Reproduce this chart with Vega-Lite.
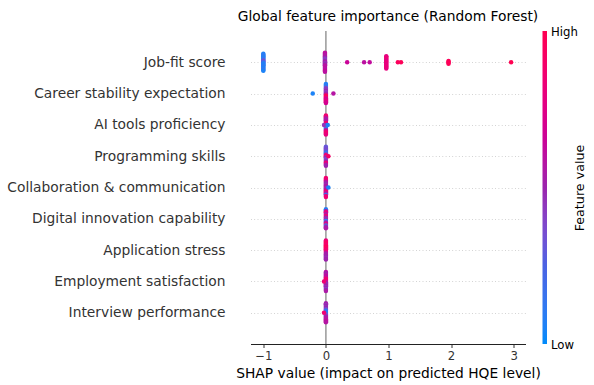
{
  "$schema": "https://vega.github.io/schema/vega-lite/v6.json",
  "width": 275,
  "height": 313,
  "autosize": {"type": "none"},
  "padding": {"left": 250.5, "top": 31, "right": 68.5, "bottom": 41},
  "background": "white",
  "config": {"font": "DejaVu Sans", "view": {"stroke": null}},
  "title": {"text": "Global feature importance (Random Forest)", "fontSize": 13.8, "fontWeight": "normal", "color": "#000", "anchor": "middle", "offset": 2},
  "datasets": {
    "features": [
      {"k": "a", "name": "Job-fit score"},
      {"k": "b", "name": "Career stability expectation"},
      {"k": "c", "name": "AI tools proficiency"},
      {"k": "d", "name": "Programming skills"},
      {"k": "e", "name": "Collaboration & communication"},
      {"k": "f", "name": "Digital innovation capability"},
      {"k": "g", "name": "Application stress"},
      {"k": "h", "name": "Employment satisfaction"},
      {"k": "i", "name": "Interview performance"}
    ],
    "shap": [
      {"f":"a","s":-1,"v":0.05},{"f":"a","s":-1,"v":0.1},{"f":"a","s":-1,"v":0.08},{"f":"a","s":-1,"v":0.12},{"f":"a","s":-1,"v":0.05},{"f":"a","s":-1,"v":0.1},{"f":"a","s":-1,"v":0.15},{"f":"a","s":-1,"v":0.3},{"f":"a","s":-1,"v":0.35},{"f":"a","s":-1,"v":0.2},{"f":"a","s":-1,"v":0.1},{"f":"a","s":-1,"v":0.05},{"f":"a","s":-1,"v":0.1},{"f":"a","s":-1,"v":0.08},{"f":"a","s":-1,"v":0.12},{"f":"a","s":-1,"v":0.05},{"f":"a","s":-1,"v":0.1},{"f":"a","s":-1,"v":0.15},{"f":"a","s":-1,"v":0.05},
      {"f":"a","s":-0.015,"v":0.6},{"f":"a","s":-0.015,"v":0.62},{"f":"a","s":-0.015,"v":0.58},{"f":"a","s":-0.015,"v":0.55},{"f":"a","s":-0.015,"v":0.6},{"f":"a","s":-0.015,"v":0.5},{"f":"a","s":-0.015,"v":0.45},{"f":"a","s":-0.015,"v":0.4},{"f":"a","s":-0.015,"v":0.45},{"f":"a","s":-0.015,"v":0.5},{"f":"a","s":-0.015,"v":0.55},{"f":"a","s":-0.015,"v":0.45},{"f":"a","s":-0.015,"v":0.5},{"f":"a","s":-0.015,"v":0.55},{"f":"a","s":-0.015,"v":0.6},{"f":"a","s":-0.015,"v":0.58},{"f":"a","s":-0.015,"v":0.62},{"f":"a","s":-0.015,"v":0.55},{"f":"a","s":-0.015,"v":0.6},{"f":"a","s":-0.015,"v":0.65},{"f":"a","s":-0.015,"v":0.6},
      {"f":"a","s":0.34,"v":0.65},{"f":"a","s":0.61,"v":0.6},{"f":"a","s":0.7,"v":0.62},
      {"f":"a","s":0.965,"v":0.8},{"f":"a","s":0.965,"v":0.78},{"f":"a","s":0.965,"v":0.82},{"f":"a","s":0.965,"v":0.85},{"f":"a","s":0.965,"v":0.8},{"f":"a","s":0.965,"v":0.75},{"f":"a","s":0.965,"v":0.8},{"f":"a","s":0.965,"v":0.85},{"f":"a","s":0.965,"v":0.8},{"f":"a","s":0.965,"v":0.78},{"f":"a","s":0.965,"v":0.82},{"f":"a","s":0.965,"v":0.8},{"f":"a","s":0.965,"v":0.85},{"f":"a","s":0.965,"v":0.8},
      {"f":"a","s":1.15,"v":0.95},{"f":"a","s":1.2,"v":0.97},
      {"f":"a","s":1.96,"v":0.95},{"f":"a","s":1.96,"v":1},{"f":"a","s":1.96,"v":0.95},{"f":"a","s":1.96,"v":0.98},
      {"f":"a","s":2.96,"v":1},
      {"f":"b","s":0,"v":0.05},{"f":"b","s":0,"v":0.1},{"f":"b","s":0,"v":0.08},{"f":"b","s":0,"v":0.15},{"f":"b","s":0,"v":0.35},{"f":"b","s":0,"v":0.45},{"f":"b","s":0,"v":0.4},{"f":"b","s":0,"v":0.5},{"f":"b","s":0,"v":0.45},{"f":"b","s":0,"v":0.4},{"f":"b","s":0,"v":0.5},{"f":"b","s":0,"v":0.55},{"f":"b","s":0,"v":0.95},{"f":"b","s":0,"v":1},{"f":"b","s":0,"v":0.9},{"f":"b","s":0,"v":0.75},{"f":"b","s":0,"v":0.7},{"f":"b","s":0,"v":0.75},{"f":"b","s":0,"v":0.8},{"f":"b","s":0,"v":0.72},{"f":"b","s":0,"v":0.7},
      {"f":"b","s":-0.21,"v":0.05},{"f":"b","s":0.12,"v":0.58},
      {"f":"c","s":0,"v":0.85},{"f":"c","s":0,"v":0.9},{"f":"c","s":0,"v":0.8},{"f":"c","s":0,"v":0.6},{"f":"c","s":0,"v":0.55},{"f":"c","s":0,"v":0.5},{"f":"c","s":0,"v":0.6},{"f":"c","s":0,"v":0.55},{"f":"c","s":0,"v":0.9},{"f":"c","s":0,"v":0.85},{"f":"c","s":0,"v":0.5},{"f":"c","s":0,"v":0.1},{"f":"c","s":0,"v":0.05},{"f":"c","s":0,"v":0.15},{"f":"c","s":0,"v":0.1},{"f":"c","s":0,"v":0.45},{"f":"c","s":0,"v":0.6},{"f":"c","s":0,"v":0.8},{"f":"c","s":0,"v":0.85},{"f":"c","s":0,"v":0.9},{"f":"c","s":0,"v":0.8},
      {"f":"c","s":-0.03,"v":0.45},{"f":"c","s":0.03,"v":0.05},
      {"f":"d","s":0,"v":0.3},{"f":"d","s":0,"v":0.35},{"f":"d","s":0,"v":0.3},{"f":"d","s":0,"v":0.4},{"f":"d","s":0,"v":0.35},{"f":"d","s":0,"v":0.3},{"f":"d","s":0,"v":0.25},{"f":"d","s":0,"v":0.1},{"f":"d","s":0,"v":0.4},{"f":"d","s":0,"v":0.85},{"f":"d","s":0,"v":0.9},{"f":"d","s":0,"v":0.45},{"f":"d","s":0,"v":0.5},{"f":"d","s":0,"v":0.35},{"f":"d","s":0,"v":0.4},{"f":"d","s":0,"v":0.45},{"f":"d","s":0,"v":0.5},{"f":"d","s":0,"v":0.85},{"f":"d","s":0,"v":0.8},{"f":"d","s":0,"v":0.55},{"f":"d","s":0,"v":0.5},
      {"f":"d","s":0.04,"v":0.9},
      {"f":"e","s":0,"v":0.85},{"f":"e","s":0,"v":0.9},{"f":"e","s":0,"v":0.8},{"f":"e","s":0,"v":0.85},{"f":"e","s":0,"v":0.6},{"f":"e","s":0,"v":0.55},{"f":"e","s":0,"v":0.5},{"f":"e","s":0,"v":0.45},{"f":"e","s":0,"v":0.55},{"f":"e","s":0,"v":0.6},{"f":"e","s":0,"v":0.5},{"f":"e","s":0,"v":0.45},{"f":"e","s":0,"v":0.55},{"f":"e","s":0,"v":0.6},{"f":"e","s":0,"v":0.8},{"f":"e","s":0,"v":0.85},{"f":"e","s":0,"v":0.6},{"f":"e","s":0,"v":0.55},{"f":"e","s":0,"v":0.1},{"f":"e","s":0,"v":0.8},{"f":"e","s":0,"v":0.85},
      {"f":"e","s":0.04,"v":0.05},
      {"f":"f","s":0,"v":0.1},{"f":"f","s":0,"v":0.05},{"f":"f","s":0,"v":0.6},{"f":"f","s":0,"v":0.85},{"f":"f","s":0,"v":0.8},{"f":"f","s":0,"v":0.6},{"f":"f","s":0,"v":0.55},{"f":"f","s":0,"v":0.85},{"f":"f","s":0,"v":0.8},{"f":"f","s":0,"v":0.5},{"f":"f","s":0,"v":0.45},{"f":"f","s":0,"v":0.6},{"f":"f","s":0,"v":0.1},{"f":"f","s":0,"v":0.15},{"f":"f","s":0,"v":0.55},{"f":"f","s":0,"v":0.6},{"f":"f","s":0,"v":0.85},{"f":"f","s":0,"v":0.1},{"f":"f","s":0,"v":0.45},{"f":"f","s":0,"v":0.5},{"f":"f","s":0,"v":0.55},
      {"f":"g","s":0,"v":0.8},{"f":"g","s":0,"v":0.85},{"f":"g","s":0,"v":0.9},{"f":"g","s":0,"v":0.95},{"f":"g","s":0,"v":0.9},{"f":"g","s":0,"v":0.85},{"f":"g","s":0,"v":0.95},{"f":"g","s":0,"v":1},{"f":"g","s":0,"v":0.9},{"f":"g","s":0,"v":0.95},{"f":"g","s":0,"v":0.85},{"f":"g","s":0,"v":0.9},{"f":"g","s":0,"v":0.8},{"f":"g","s":0,"v":0.6},{"f":"g","s":0,"v":0.55},{"f":"g","s":0,"v":0.5},{"f":"g","s":0,"v":0.55},{"f":"g","s":0,"v":0.5},{"f":"g","s":0,"v":0.45},{"f":"g","s":0,"v":0.55},{"f":"g","s":0,"v":0.5},
      {"f":"h","s":0,"v":0.6},{"f":"h","s":0,"v":0.55},{"f":"h","s":0,"v":0.5},{"f":"h","s":0,"v":0.55},{"f":"h","s":0,"v":0.6},{"f":"h","s":0,"v":0.65},{"f":"h","s":0,"v":0.55},{"f":"h","s":0,"v":0.85},{"f":"h","s":0,"v":0.9},{"f":"h","s":0,"v":0.8},{"f":"h","s":0,"v":0.85},{"f":"h","s":0,"v":0.55},{"f":"h","s":0,"v":0.5},{"f":"h","s":0,"v":0.45},{"f":"h","s":0,"v":0.5},{"f":"h","s":0,"v":0.55},{"f":"h","s":0,"v":0.45},{"f":"h","s":0,"v":0.5},{"f":"h","s":0,"v":0.4},{"f":"h","s":0,"v":0.5},{"f":"h","s":0,"v":0.55},
      {"f":"h","s":-0.03,"v":0.85},
      {"f":"i","s":0,"v":0.5},{"f":"i","s":0,"v":0.55},{"f":"i","s":0,"v":0.45},{"f":"i","s":0,"v":0.5},{"f":"i","s":0,"v":0.45},{"f":"i","s":0,"v":0.5},{"f":"i","s":0,"v":0.4},{"f":"i","s":0,"v":0.35},{"f":"i","s":0,"v":0.1},{"f":"i","s":0,"v":0.2},{"f":"i","s":0,"v":0.05},{"f":"i","s":0,"v":0.15},{"f":"i","s":0,"v":0.3},{"f":"i","s":0,"v":0.4},{"f":"i","s":0,"v":0.5},{"f":"i","s":0,"v":0.55},{"f":"i","s":0,"v":0.6},{"f":"i","s":0,"v":0.55},{"f":"i","s":0,"v":0.6},{"f":"i","s":0,"v":0.62},{"f":"i","s":0,"v":0.58},
      {"f":"i","s":-0.03,"v":0.85}
    ]
  },
  "layer": [
    {
      "data": {"values": [{}]},
      "mark": {"type": "rule", "color": "#999999", "strokeWidth": 1.5},
      "encoding": {"x": {"datum": 0, "type": "quantitative"}}
    },
    {
      "data": {"name": "shap"},
      "transform": [
        {"lookup": "f", "from": {"data": {"name": "features"}, "key": "k", "fields": ["name"]}},
        {"window": [{"op": "count", "as": "one"}], "frame": [0, 0], "ignorePeers": true},
        {"stack": "one", "groupby": ["f", "s"], "offset": "center", "as": ["o0", "o1"]}
      ],
      "mark": {"type": "circle", "size": 20, "opacity": 1},
      "encoding": {
        "x": {
          "field": "s", "type": "quantitative",
          "scale": {"domain": [-1.205, 3.19], "nice": false, "zero": false},
          "axis": {
            "title": "SHAP value (impact on predicted HQE level)",
            "values": [-1, 0, 1, 2, 3], "format": "d", "grid": false,
            "domainColor": "#222", "tickColor": "#333", "tickSize": 3.5,
            "labelColor": "#333", "labelFontSize": 11.7, "labelPadding": 3.3,
            "titleFontSize": 13.8, "titleFontWeight": "normal", "titleColor": "#000", "titlePadding": 3.5
          }
        },
        "y": {
          "field": "name", "type": "nominal",
          "sort": ["Job-fit score", "Career stability expectation", "AI tools proficiency", "Programming skills", "Collaboration & communication", "Digital innovation capability", "Application stress", "Employment satisfaction", "Interview performance"],
          "scale": {"type": "point", "padding": 1},
          "axis": {
            "title": null, "domain": false, "ticks": false, "labelPadding": 25.5,
            "labelFontSize": 13.8, "labelColor": "#333", "labelLimit": 0,
            "grid": true, "gridColor": "#bbbbbb", "gridDash": [0.8, 2.5], "gridWidth": 0.8
          }
        },
        "yOffset": {"field": "o0", "type": "quantitative", "scale": {"domain": [0, 20], "range": [-9.5, 9.5]}},
        "color": {
          "field": "v", "type": "quantitative",
          "scale": {"domain": [0, 0.25, 0.5, 0.75, 1], "range": ["#008bfb", "#4b63e3", "#9b24ad", "#e00086", "#ff0051"], "interpolate": "hcl"},
          "legend": {
            "orient": "none", "legendX": 292, "legendY": 0, "direction": "vertical",
            "gradientLength": 313, "gradientThickness": 4.5, "gradientStrokeWidth": 0,
            "title": null, "labelExpr": "''", "padding": 0
          }
        }
      }
    },
    {
      "data": {"name": "shap"},
      "mark": {"type": "circle", "opacity": 0},
      "encoding": {
        "y": {
          "field": "v", "type": "quantitative",
          "scale": {"domain": [0, 1], "nice": false},
          "axis": {
            "orient": "right", "offset": 21, "domain": false, "ticks": false, "grid": false,
            "values": [0, 1], "labelExpr": "datum.value >= 1 ? 'High' : 'Low'",
            "labelFontSize": 11.7, "labelColor": "#000", "labelPadding": 4,
            "title": "Feature value", "titleAngle": 270, "titleFontSize": 12.7,
            "titleFontWeight": "normal", "titleColor": "#000", "titlePadding": 9
          }
        }
      }
    }
  ],
  "resolve": {"scale": {"y": "independent"}}
}
